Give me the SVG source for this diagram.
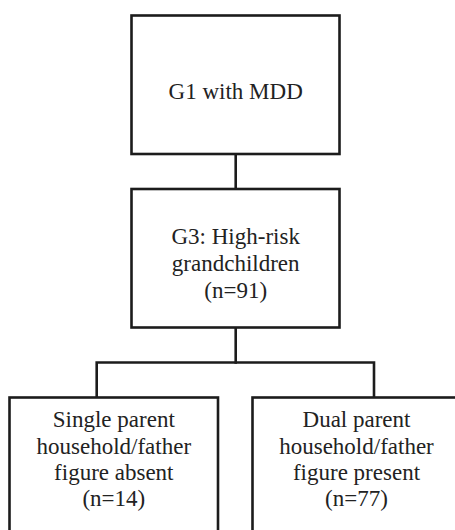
<svg xmlns="http://www.w3.org/2000/svg" width="455" height="530" viewBox="0 0 455 530">
<style>
.box{fill:#ffffff;stroke:#1c1c1c;stroke-width:2.6}
.lbl{font-family:"Liberation Serif","Times New Roman",serif;font-size:23px;fill:#222222;text-anchor:middle}
.con{fill:none;stroke:#1c1c1c;stroke-width:2.6;stroke-linecap:square}
</style>
<rect width="455" height="530" fill="#ffffff"/>
<g id="connectors">
<path class="con" d="M235.7,154 V189"/>
<path class="con" d="M235.7,327.5 V362.5"/>
<path class="con" d="M96.7,397.5 V362.5 H374 V397.5"/>
</g>
<g id="g1">
<rect class="box" x="131.5" y="15.5" width="208" height="138.5"/>
<text class="lbl" x="235.7" y="99.3">G1 with MDD</text>
</g>
<g id="g3">
<rect class="box" x="131.5" y="189" width="208" height="138.5"/>
<text class="lbl" x="235.7" y="244">G3: High-risk</text>
<text class="lbl" x="235.7" y="271">grandchildren</text>
<text class="lbl" x="235.7" y="298">(n=91)</text>
</g>
<g id="single">
<rect class="box" x="9.5" y="397.5" width="208.5" height="150"/>
<text class="lbl" x="113.8" y="426.7">Single parent</text>
<text class="lbl" x="113.8" y="453.5">household/father</text>
<text class="lbl" x="113.8" y="479.5">figure absent</text>
<text class="lbl" x="113.8" y="506">(n=14)</text>
</g>
<g id="dual">
<rect class="box" x="252.5" y="397.5" width="209" height="150"/>
<text class="lbl" x="356.5" y="426.7">Dual parent</text>
<text class="lbl" x="356.5" y="453.5">household/father</text>
<text class="lbl" x="356.5" y="479.5">figure present</text>
<text class="lbl" x="356.5" y="506">(n=77)</text>
</g>
</svg>
